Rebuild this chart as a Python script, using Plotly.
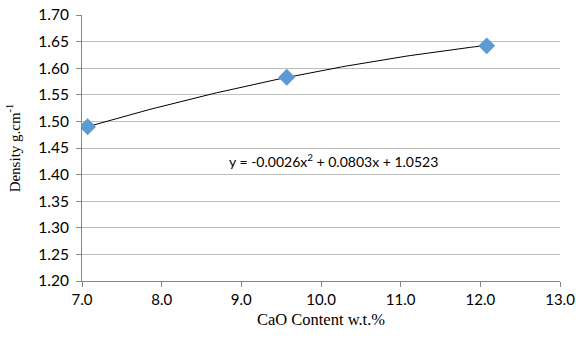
import numpy as np
import plotly.graph_objects as go

# Data
cao_content = [7.07, 9.57, 12.08]
density = [1.490, 1.583, 1.642]

# Trendline coefficients as shown on the chart (y = a x^2 + b x + c)
coef_a = -0.0026
coef_b = 0.0803
coef_c = 1.0523
equation_label = "y = -0.0026x<sup>2</sup> + 0.0803x + 1.0523"

x_ticks = [7.0, 8.0, 9.0, 10.0, 11.0, 12.0, 13.0]
y_ticks = [1.20, 1.25, 1.30, 1.35, 1.40, 1.45, 1.50, 1.55, 1.60, 1.65, 1.70]

xt = np.linspace(min(cao_content), max(cao_content), 100)
yt = coef_a * xt**2 + coef_b * xt + coef_c

fig = go.Figure()
fig.add_trace(go.Scatter(x=xt, y=yt, mode="lines",
                         line=dict(color="black", width=1), hoverinfo="skip"))
fig.add_trace(go.Scatter(x=cao_content, y=density, mode="markers",
                         marker=dict(symbol="diamond", size=13, color="#5B9BD5",
                                     line=dict(width=0))))

fig.add_annotation(x=10.16, y=1.427, text=equation_label, showarrow=False,
                   font=dict(family="Lato", size=14, color="black"))

fig.update_layout(
    width=576, height=340,
    margin=dict(l=82, r=16, t=15, b=59),
    paper_bgcolor="white", plot_bgcolor="white",
    showlegend=False,
)
fig.update_xaxes(range=[7.0, 13.0], tickvals=x_ticks,
                 ticktext=[f"{v:.1f}" for v in x_ticks],
                 showgrid=False, showline=True, linecolor="#868686", linewidth=1,
                 ticks="outside", ticklen=5, tickcolor="#868686",
                 tickfont=dict(family="Lato", size=15, color="black"),
                 title=dict(text="CaO Content w.t.%", standoff=6,
                            font=dict(family="Liberation Serif", size=16.5, color="black")),
                 zeroline=False, automargin=False)
fig.update_yaxes(range=[1.20, 1.70], tickvals=y_ticks,
                 ticktext=[f"{v:.2f}" for v in y_ticks],
                 showgrid=True, gridcolor="#BFBFBF", gridwidth=1,
                 showline=True, linecolor="#868686", linewidth=1,
                 ticks="outside", ticklen=5, tickcolor="#868686",
                 tickfont=dict(family="Lato", size=15.5, color="black"),
                 ticklabelstandoff=4,
                 title=dict(text="Density g.cm<sup>-1</sup>", standoff=14,
                            font=dict(family="Liberation Serif", size=15, color="black")),
                 zeroline=False, automargin=False)

fig.write_html("out.html")
